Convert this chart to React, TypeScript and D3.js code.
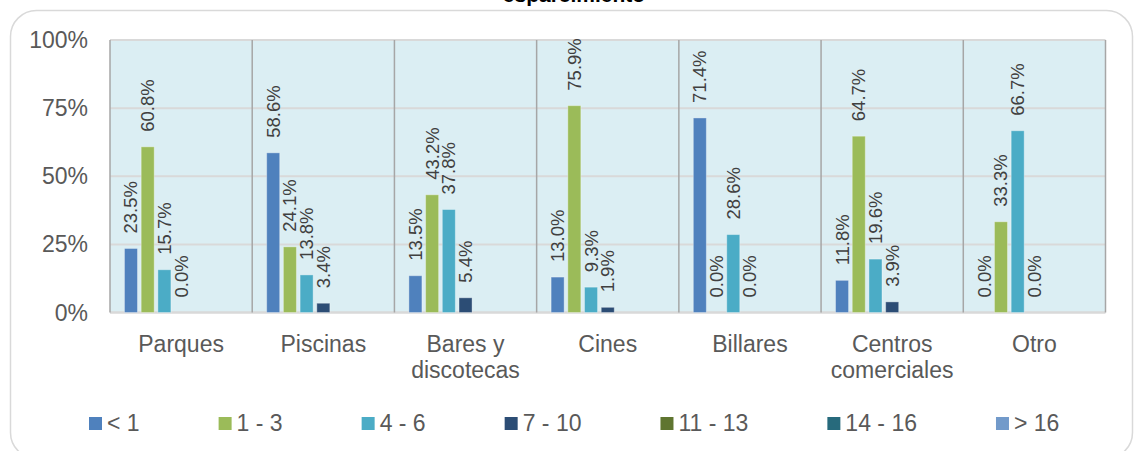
import React from "react";
import * as d3 from "d3";

// categories and series
const categories = [
  "Parques",
  "Piscinas",
  "Bares y\ndiscotecas",
  "Cines",
  "Billares",
  "Centros\ncomerciales",
  "Otro",
];
const seriesNames = ["< 1", "1 - 3", "4 - 6", "7 - 10", "11 - 13", "14 - 16", "> 16"];

const lessThan1 = [23.5, 58.6, 13.5, 13.0, 71.4, 11.8, 0.0];
const oneToThree = [60.8, 24.1, 43.2, 75.9, 0.0, 64.7, 33.3];
const fourToSix = [15.7, 13.8, 37.8, 9.3, 28.6, 19.6, 66.7];
const sevenToTen = [0.0, 3.4, 5.4, 1.9, 0.0, 3.9, 0.0];
const elevenToThirteen = [null, null, null, null, null, null, null];
const fourteenToSixteen = [null, null, null, null, null, null, null];
const moreThan16 = [null, null, null, null, null, null, null];

const yTicks = [0, 25, 50, 75, 100];
const colors = ["#4F81BD", "#9BBB59", "#4BACC6", "#2C4D75", "#5F7530", "#276A7C", "#729ACA"];

const W = 1134;
const H = 451;
const plot = { left: 110, right: 1105.5, top: 40, bottom: 312.5 };
const FONT = "'Liberation Sans', Arial, sans-serif";

function textWidth(txt: string, size: number) {
  const ctx = document.createElement("canvas").getContext("2d");
  if (!ctx) return txt.length * size * 0.55;
  ctx.font = `${size}px 'Liberation Sans', Arial, sans-serif`;
  return ctx.measureText(txt).width;
}

export default function App() {
  const series = [lessThan1, oneToThree, fourToSix, sevenToTen, elevenToThirteen, fourteenToSixteen, moreThan16];

  const x0 = d3.scaleBand<string>().domain(categories).range([plot.left, plot.right]).padding(0);
  const x1 = d3
    .scaleBand<string>()
    .domain(seriesNames)
    .range([0, x0.bandwidth()])
    .paddingInner(0.22)
    .paddingOuter(0.865);
  const y = d3.scaleLinear().domain([0, 100]).range([plot.bottom, plot.top]);
  const fmt = d3.format(".1f");

  // legend layout: marker, text, gap
  const legendSize = 23;
  let lx = 89;
  const legendItems = seriesNames.map((name, i) => {
    const item = { name, x: lx, color: colors[i] };
    lx += 18 + textWidth(name, legendSize) + 79;
    return item;
  });

  return (
    <svg width={W} height={H} style={{ position: "absolute", left: 0, top: 0 }} fontFamily={FONT}>
      <rect x={0} y={0} width={W} height={H} fill="#fff" />
      <rect x={10.5} y={10.5} width={1122} height={448} rx={26} fill="#fff" stroke="#D9D9D9" strokeWidth={1.5} />
      <text x={W / 2 + 7} y={2} textAnchor="middle" fontSize={21} fontWeight="bold" fill="#000">
        esparcimiento
      </text>

      {/* plot area */}
      <rect x={plot.left} y={plot.top} width={plot.right - plot.left} height={plot.bottom - plot.top} fill="#DBEEF3" />
      {yTicks.map((t) => (
        <line key={"g" + t} x1={plot.left} x2={plot.right} y1={y(t)} y2={y(t)} stroke="#D9D9D9" strokeWidth={t === 0 ? 2.5 : 2} />
      ))}
      {categories.map((c) => (
        <line key={"v" + c} x1={x0(c)!} x2={x0(c)!} y1={plot.top} y2={plot.bottom} stroke="#A6A6A6" strokeWidth={1.5} />
      ))}
      <line x1={plot.right} x2={plot.right} y1={plot.top} y2={plot.bottom} stroke="#A6A6A6" strokeWidth={1.5} />

      {yTicks.map((t) => (
        <text key={"t" + t} x={88} y={y(t)} dy="0.35em" textAnchor="end" fontSize={23} fill="#595959">
          {t}%
        </text>
      ))}

      {/* bars */}
      {series.map((vals, si) =>
        vals.map((v, ci) => {
          if (v === null) return null;
          const bx = x0(categories[ci])! + x1(seriesNames[si])!;
          return (
            <rect
              key={`b${si}-${ci}`}
              x={bx}
              y={y(v)}
              width={x1.bandwidth()}
              height={plot.bottom - y(v)}
              fill={colors[si]}
              stroke="#ffffff"
              strokeOpacity={0.35}
              strokeWidth={1}
            />
          );
        })
      )}

      {/* data labels */}
      {series.map((vals, si) =>
        vals.map((v, ci) => {
          if (v === null) return null;
          const cx = x0(categories[ci])! + x1(seriesNames[si])! + x1.bandwidth() / 2;
          const ly = y(v) - 15;
          return (
            <text
              key={`l${si}-${ci}`}
              transform={`translate(${cx},${ly}) rotate(-90)`}
              dy="0.35em"
              fontSize={18.5}
              fill="#404040"
            >
              {fmt(v)}%
            </text>
          );
        })
      )}

      {/* category labels */}
      {categories.map((c) => (
        <text key={"c" + c} x={x0(c)! + x0.bandwidth() / 2} y={352} textAnchor="middle" fontSize={23} fill="#595959">
          {c.split("\n").map((line, i) => (
            <tspan key={i} x={x0(c)! + x0.bandwidth() / 2} dy={i === 0 ? 0 : 26}>
              {line}
            </tspan>
          ))}
        </text>
      ))}

      {/* legend */}
      {legendItems.map((it) => (
        <g key={"lg" + it.name}>
          <rect x={it.x} y={417} width={13} height={13} fill={it.color} />
          <text x={it.x + 18} y={431} fontSize={legendSize} fill="#595959">
            {it.name}
          </text>
        </g>
      ))}
    </svg>
  );
}
